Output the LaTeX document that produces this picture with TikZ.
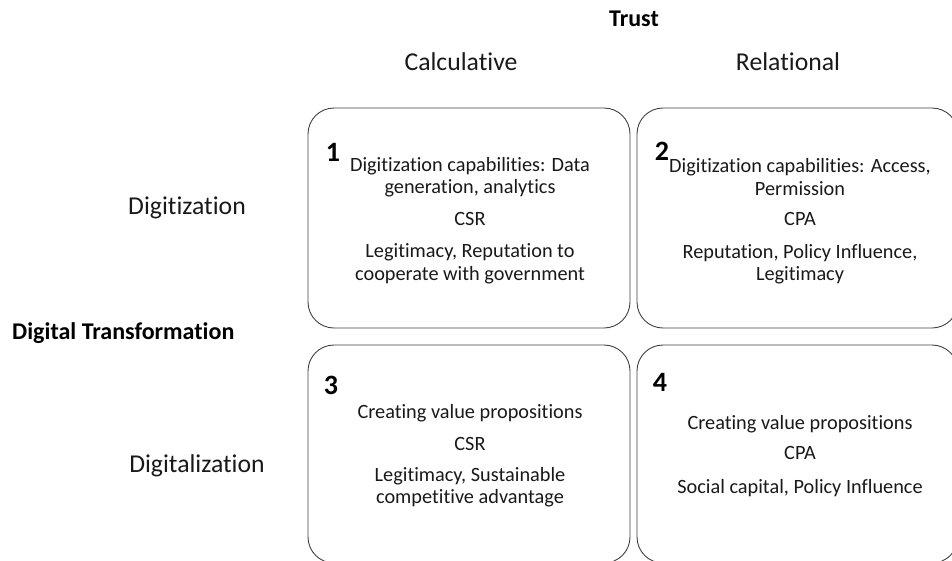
\documentclass[tikz,border=0pt]{standalone}
\usepackage{fontspec}
\setmainfont[Ligatures={NoCommon}]{Carlito}
\begin{document}
\begin{tikzpicture}[x=1pt,y=-1pt,
  quad/.style={draw=black!75,line width=0.9pt,rounded corners=26pt,inner sep=0pt},
  body/.style={font=\fontsize{20.3}{22.5}\selectfont,align=center,text=black!90,inner sep=0pt},
  head/.style={font=\fontsize{25.7}{30}\selectfont,text=black!90,inner sep=0pt},
  bold/.style={font=\fontsize{24}{28}\selectfont\bfseries,inner sep=0pt},
  num/.style={font=\fontsize{28}{32}\selectfont\bfseries,inner sep=0pt}]
\useasboundingbox (0,0) rectangle (952,560);
\clip (0,0) rectangle (952,560);
% headings
\node[bold] (trust) at (634,19) {Trust};
\node[head] (calc) at (461,62) {Calculative};
\node[head] (rel) at (788,62) {Relational};
\node[head] (digz) at (187,208) {Digitization};
\node[bold,anchor=west] (dt) at (12,333) {Digital Transformation};
\node[head] (digl) at (197,466) {Digitalization};
% boxes
\node[quad,minimum width=322pt,minimum height=220pt] (b1) at (469,218) {};
\node[quad,minimum width=321pt,minimum height=220pt] (b2) at (797.5,218) {};
\node[quad,minimum width=322pt,minimum height=218pt] (b3) at (469,454) {};
\node[quad,minimum width=321pt,minimum height=218pt] (b4) at (797.5,454) {};
% box 1
\node[num] (n1) at (333,152) {1};
\node[body] (t1a) at (470,177) {Digitization capabilities: Data\\generation, analytics};
\node[body] (t1b) at (470,219) {CSR};
\node[body] (t1c) at (470,264) {Legitimacy, Reputation to\\cooperate with government};
% box 2
\node[num] (n2) at (662,151) {2};
\node[body] (t2a) at (800,177) {Digitization capabilities: Access,\\Permission};
\node[body] (t2b) at (800,219) {CPA};
\node[body] (t2c) at (800,264) {Reputation, Policy Influence,\\Legitimacy};
% box 3
\node[num] (n3) at (331,385) {3};
\node[body] (t3a) at (470,413) {Creating value propositions};
\node[body] (t3b) at (470,444) {CSR};
\node[body] (t3c) at (470,487) {Legitimacy, Sustainable\\competitive advantage};
% box 4
\node[num] (n4) at (660,382) {4};
\node[body] (t4a) at (800,424) {Creating value propositions};
\node[body] (t4b) at (800,453) {CPA};
\node[body] (t4c) at (800,488) {Social capital, Policy Influence};
\end{tikzpicture}
\end{document}
